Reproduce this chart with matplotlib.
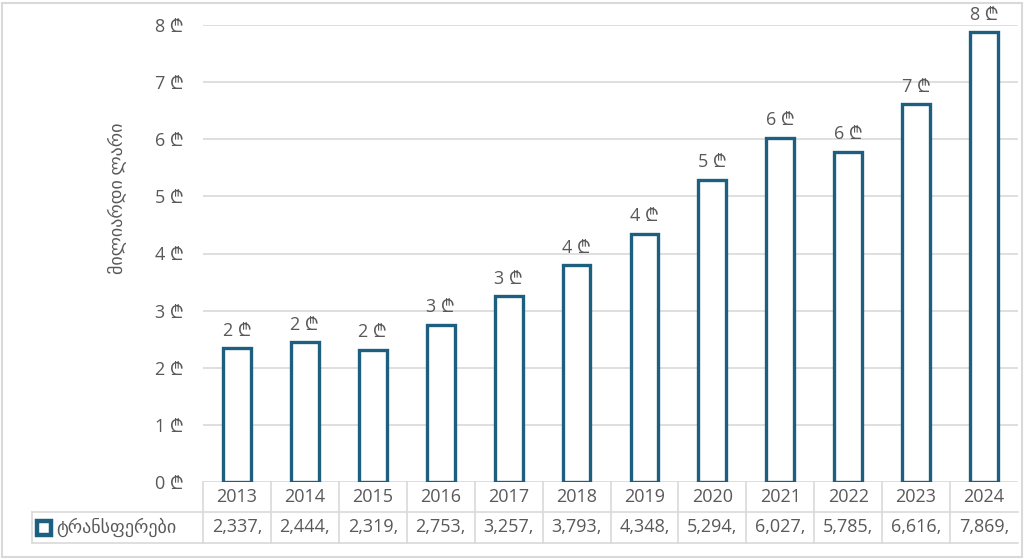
import matplotlib
matplotlib.use("Agg")
import matplotlib.pyplot as plt
import matplotlib.transforms as mtransforms
from matplotlib.patches import Rectangle
from matplotlib.lines import Line2D

years = ["2013", "2014", "2015", "2016", "2017", "2018",
         "2019", "2020", "2021", "2022", "2023", "2024"]
# transfers, billion lari
transfers = [2.337, 2.444, 2.319, 2.753, 3.257, 3.793,
             4.348, 5.294, 6.027, 5.785, 6.616, 7.869]
table_text = ["2,337,", "2,444,", "2,319,", "2,753,", "3,257,", "3,793,",
              "4,348,", "5,294,", "6,027,", "5,785,", "6,616,", "7,869,"]
series_name = "ტრანსფერები"
y_title = "მილიარდი ლარი"

bar_color = "#1d5f7e"
text_color = "#595959"
grid_color = "#d9d9d9"

plt.rcParams["font.family"] = ["Open Sans", "Noto Sans", "Inter", "Roboto",
                               "Lato", "DejaVu Sans"]

W, H = 1024, 559
fig = plt.figure(figsize=(W / 100, H / 100), dpi=100)
ax = fig.add_axes([203 / W, 1 - 482 / H, (1018 - 203) / W, (482 - 25) / H])

x = list(range(len(years)))
ax.bar(x, transfers, width=0.41, facecolor="white", edgecolor=bar_color,
       linewidth=2.4, zorder=3)

for xi, v in zip(x, transfers):
    ax.annotate(f"{v:.0f} ₾", (xi, v), xytext=(0, 6), textcoords="offset points",
                ha="center", va="bottom", fontsize=13, color=text_color)

ax.set_xlim(-0.5, len(years) - 0.5)
ax.set_ylim(0, 8)
ax.set_yticks(range(0, 9))
ax.set_yticklabels([f"{i} ₾" for i in range(0, 9)])
ax.set_xticks([])
ax.tick_params(axis="y", length=0, pad=14, labelsize=13, labelcolor=text_color)
ax.grid(True, axis="y", color=grid_color, linewidth=1.2, zorder=0)
for s in ax.spines.values():
    s.set_visible(False)

fig.text(118 / W, 1 - 198 / H, y_title, rotation=90, ha="center", va="center",
         fontsize=13, color=text_color)

# data table under the plot
tr = mtransforms.blended_transform_factory(ax.transData, fig.transFigure)
y_top, y_mid, y_bot = 1 - 482 / H, 1 - 512 / H, 1 - 543 / H
for b in [i - 0.5 for i in range(len(years))]:
    fig.add_artist(Line2D([b, b], [y_top, y_bot], transform=tr,
                          color=grid_color, linewidth=1.2))
for yy in [y_mid, y_bot]:
    fig.add_artist(Line2D([32 / W, 1018 / W], [yy, yy], transform=fig.transFigure,
                          color=grid_color, linewidth=1.2))
fig.add_artist(Line2D([32 / W, 32 / W], [y_mid, y_bot], transform=fig.transFigure,
                      color=grid_color, linewidth=1.2))

for xi, yr, t in zip(x, years, table_text):
    fig.text(xi, (y_top + y_mid) / 2, yr, transform=tr, ha="center", va="center",
             fontsize=13, color=text_color)
    fig.text(xi, (y_mid + y_bot) / 2, t, transform=tr, ha="center", va="center",
             fontsize=13, color=text_color)

fig.add_artist(Line2D([44 / W], [(y_mid + y_bot) / 2], transform=fig.transFigure,
                      marker="s", markersize=10, markerfacecolor="white",
                      markeredgecolor=bar_color, markeredgewidth=3.2, linestyle="none"))
fig.text(56 / W, (y_mid + y_bot) / 2, series_name, ha="left", va="center",
         fontsize=13, color=text_color)

fig.add_artist(Rectangle((1.5 / W, 2.5 / H), (W - 4) / W, (H - 5) / H,
                         transform=fig.transFigure, fill=False,
                         edgecolor=grid_color, linewidth=1.5))

fig.savefig("out.png", dpi=100)
